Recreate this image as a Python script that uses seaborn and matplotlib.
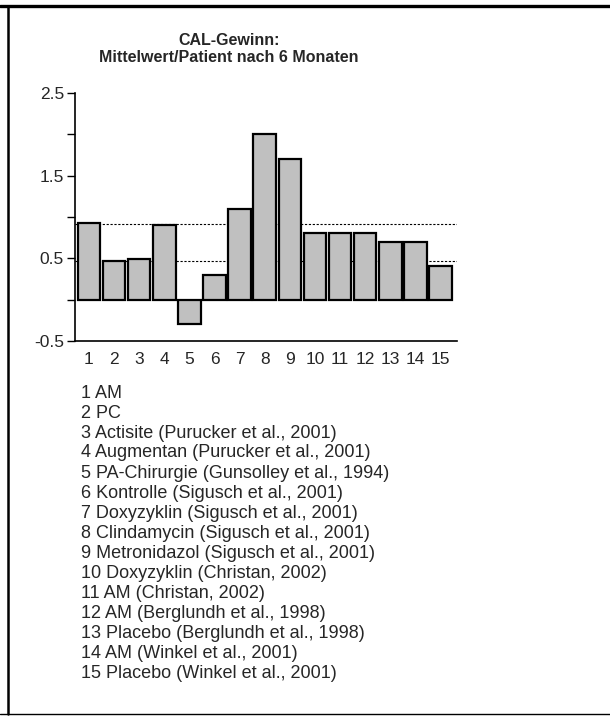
import matplotlib
matplotlib.use('Agg')
import matplotlib.pyplot as plt
import seaborn as sns
import pandas as pd
from matplotlib.lines import Line2D

# values
groups = [str(i) for i in range(1, 16)]
cal_gain = [0.93, 0.47, 0.49, 0.90, -0.30, 0.30, 1.10, 2.00, 1.70, 0.80, 0.80, 0.80, 0.70, 0.70, 0.40]
ref_lines = [0.92, 0.47]
major_ticks = [-0.5, 0.5, 1.5, 2.5]
minor_ticks = [0.0, 1.0, 2.0]
legend_lines = [
    '1 AM',
    '2 PC',
    '3 Actisite (Purucker et al., 2001)',
    '4 Augmentan (Purucker et al., 2001)',
    '5 PA-Chirurgie (Gunsolley et al., 1994)',
    '6 Kontrolle (Sigusch et al., 2001)',
    '7 Doxyzyklin (Sigusch et al., 2001)',
    '8 Clindamycin (Sigusch et al., 2001)',
    '9 Metronidazol (Sigusch et al., 2001)',
    '10 Doxyzyklin (Christan, 2002)',
    '11 AM (Christan, 2002)',
    '12 AM (Berglundh et al., 1998)',
    '13 Placebo (Berglundh et al., 1998)',
    '14 AM (Winkel et al., 2001)',
    '15 Placebo (Winkel et al., 2001)',
]

df = pd.DataFrame({'Gruppe': groups, 'CAL': cal_gain})

sns.set_style('ticks')
plt.rcParams['font.family'] = ['Liberation Sans', 'DejaVu Sans']

fig = plt.figure(figsize=(6.10, 7.16), dpi=100)
ax = fig.add_axes([0.123, 0.524, 0.626, 0.346])

sns.barplot(data=df, x='Gruppe', y='CAL', color='#c0c0c0', saturation=1,
            edgecolor='black', linewidth=1.6, width=0.9, ax=ax)

for v in ref_lines:
    ax.axhline(v, color='black', linestyle=(0, (2, 1.5)), linewidth=0.8, zorder=0.5)

ax.set_xlim(-0.55, 14.65)
ax.set_ylim(-0.5, 2.5)
ax.set_yticks(major_ticks)
ax.set_yticklabels(['-0.5', '0.5', '1.5', '2.5'])
ax.set_yticks(minor_ticks, minor=True)
ax.tick_params(axis='y', which='both', length=6, width=1, pad=2, labelsize=12.5, color='black')
ax.tick_params(axis='x', length=0, pad=8, labelsize=12.5)
ax.set_xlabel('')
ax.set_ylabel('')
sns.despine(ax=ax)
for s in ['left', 'bottom']:
    ax.spines[s].set_linewidth(1.2)
    ax.spines[s].set_color('black')

fig.text(229 / 610, 1 - 49 / 716, 'CAL-Gewinn:\nMittelwert/Patient nach 6 Monaten',
         ha='center', va='center', fontsize=11.5, fontweight='bold', linespacing=1.2)

for i, line in enumerate(legend_lines):
    fig.text(81 / 610, 1 - (393 + 20 * i) / 716, line, ha='left', va='center', fontsize=13)

# frame lines like the table cell in the original
fig.add_artist(Line2D([0, 1], [1 - 6 / 716, 1 - 6 / 716], color='black', linewidth=2.4))
fig.add_artist(Line2D([8 / 610, 8 / 610], [1 - 6 / 716, 1 - 714 / 716], color='black', linewidth=1.8))
fig.add_artist(Line2D([0, 1], [1 - 714 / 716, 1 - 714 / 716], color='black', linewidth=1))

plt.savefig('out.png', dpi=100, facecolor='white')
